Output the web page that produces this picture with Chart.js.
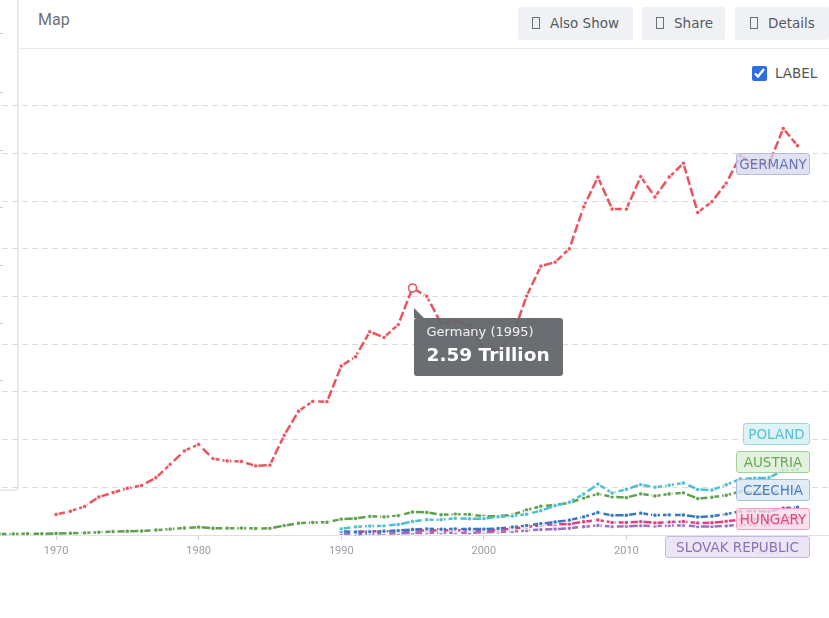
<!DOCTYPE html>
<html>
<head>
<meta charset="utf-8">
<script src="https://cdn.jsdelivr.net/npm/chart.js@4.4.1/dist/chart.umd.min.js"></script>
<style>
  body { margin: 0; width: 829px; height: 618px; overflow: hidden; background: #fff; font-family: Roboto, "Open Sans", sans-serif; position: relative; }
  .abs { position: absolute; }
  .panel { left: 17px; top: 0; width: 812px; height: 490px; border-left: 2px solid #e7eaef; box-sizing: border-box; }
  .panel-foot { left: 0; top: 489px; width: 18px; height: 2px; background: #e7eaef; }
  .mark { left: 0; width: 3px; height: 1px; background: #c9ccd0; }
  .head-line { left: 19px; top: 48px; width: 810px; height: 1px; background: #e6e8eb; }
  .map-title { left: 38px; top: 10px; font-size: 16px; color: #6d7278; }
  .btn { top: 7px; height: 33px; background: #eff1f4; border-radius: 2px; font-family: "DejaVu Sans", sans-serif; font-size: 13.5px; color: #555a61; line-height: 33px; box-sizing: border-box; }
  .btn i { display: inline-block; width: 6px; height: 10px; border: 1px solid #6b7077; vertical-align: -1px; margin-right: 10px; }
  .lbl-check { left: 752px; top: 65px; font-family: "DejaVu Sans", sans-serif; font-size: 13.5px; color: #555; display: flex; align-items: center; }
  .lbl-check input { margin: 0 8px 0 0; width: 15px; height: 15px; accent-color: #2d6fe3; }
  canvas { position: absolute; left: -163px; top: 62px; }
  .tag { height: 22px; line-height: 21px; font-family: "DejaVu Sans", sans-serif; font-size: 13.5px; text-align: center; border-radius: 3px; border: 1px solid; box-sizing: border-box; }
  #tip { display: none; background: rgba(95, 99, 104, 0.93); color: #fff; border-radius: 3px; width: 149px; height: 58px; box-sizing: border-box; padding: 5px 0 0 13px; font-family: "DejaVu Sans", sans-serif; }
  #tip .tail { position: absolute; left: 0; top: -10px; width: 0; height: 0; border-bottom: 10px solid rgba(95, 99, 104, 0.93); border-right: 10px solid transparent; }
  #tip .t-title { font-size: 13px; line-height: 18px; color: #f1f1f1; }
  #tip .t-value { font-size: 18.5px; font-weight: bold; line-height: 26px; margin-top: 1px; }
</style>
</head>
<body>
<div class="abs panel"></div>
<div class="abs panel-foot"></div>
<div class="abs mark" style="top:33px"></div>
<div class="abs mark" style="top:92px"></div>
<div class="abs mark" style="top:150px"></div>
<div class="abs mark" style="top:207px"></div>
<div class="abs mark" style="top:265px"></div>
<div class="abs mark" style="top:323px"></div>
<div class="abs mark" style="top:380px"></div>
<div class="abs head-line"></div>
<div class="abs map-title">Map</div>
<div class="abs btn" style="left:518px;width:115px;padding-left:14px"><i></i>Also Show</div>
<div class="abs btn" style="left:642px;width:83px;padding-left:14px"><i></i>Share</div>
<div class="abs btn" style="left:735px;width:94px;padding-left:15px"><i></i>Details</div>
<label class="abs lbl-check"><input type="checkbox" checked>LABEL</label>

<canvas id="chart" width="1037" height="513"></canvas>

<div class="abs tag" style="left:736px;top:153px;width:74px;color:#6c73b3;background:rgba(214,216,238,0.75);border-color:#b6bbdf">GERMANY</div>
<div class="abs tag" style="left:743px;top:423px;width:67px;color:#55c1d0;background:rgba(212,240,244,0.8);border-color:#99dbe4">POLAND</div>
<div class="abs tag" style="left:736px;top:451px;width:74px;color:#67a655;background:rgba(220,239,214,0.8);border-color:#a6d29a">AUSTRIA</div>
<div class="abs tag" style="left:736px;top:479px;width:74px;color:#4a80c0;background:rgba(217,231,245,0.8);border-color:#a3c2e5">CZECHIA</div>
<div class="abs tag" style="left:736px;top:508px;width:74px;color:#df4686;background:rgba(250,218,230,0.8);border-color:#f0a0bf">HUNGARY</div>
<div class="abs tag" style="left:665px;top:536px;width:145px;color:#8a72b7;background:rgba(233,225,243,0.85);border-color:#c9b9e2">SLOVAK REPUBLIC</div>

<div class="abs" id="tip"><div class="tail"></div><div class="t-title"></div><div class="t-value"></div></div>

<script>
// GDP, current US$, in trillions
const germanyStart = 1970;
const germanyGdp = [0.216, 0.249, 0.300, 0.398, 0.445, 0.490, 0.519, 0.600, 0.741, 0.882,
  0.950, 0.801, 0.777, 0.770, 0.725, 0.733, 1.046, 1.298, 1.401, 1.398,
  1.772, 1.869, 2.132, 2.072, 2.206, 2.59, 2.503, 2.218, 2.243, 2.200,
  1.948, 1.945, 2.078, 2.505, 2.819, 2.861, 3.002, 3.440, 3.752, 3.418,
  3.417, 3.758, 3.544, 3.753, 3.898, 3.382, 3.495, 3.690, 3.975, 3.889,
  3.890, 4.263, 4.082];

const austriaStart = 1960;
const austriaGdp = [0.0066, 0.0073, 0.0078, 0.0084, 0.0092, 0.0099, 0.0109, 0.0117, 0.0126, 0.0135,
  0.0154, 0.0178, 0.0221, 0.0295, 0.0355, 0.0400, 0.0427, 0.0518, 0.0617, 0.0731,
  0.0822, 0.0714, 0.0716, 0.0721, 0.0677, 0.0696, 0.0988, 0.1226, 0.1317, 0.1333,
  0.1665, 0.1739, 0.1955, 0.1902, 0.2035, 0.2416, 0.2368, 0.2127, 0.2187, 0.2158,
  0.1967, 0.1969, 0.2127, 0.2615, 0.3009, 0.3151, 0.3360, 0.3887, 0.4306, 0.4009,
  0.3920, 0.4317, 0.4095, 0.4302, 0.4422, 0.3819, 0.3954, 0.4171, 0.4552, 0.4445,
  0.4353, 0.4800, 0.4711];

const polandStart = 1990;
const polandGdp = [0.0647, 0.0854, 0.0942, 0.0961, 0.1103, 0.1425, 0.1599, 0.1592, 0.1746, 0.1696,
  0.1718, 0.1906, 0.1985, 0.2175, 0.2555, 0.3063, 0.3444, 0.4292, 0.5339, 0.4398,
  0.4791, 0.5283, 0.5003, 0.5212, 0.5451, 0.4773, 0.4711, 0.5265, 0.5878, 0.5966,
  0.5995, 0.6812, 0.6882];

const czechiaStart = 1990;
const czechiaGdp = [0.0399, 0.0307, 0.0347, 0.0403, 0.0463, 0.0580, 0.0646, 0.0603, 0.0647, 0.0627,
  0.0617, 0.0678, 0.0827, 0.0999, 0.1194, 0.1364, 0.1559, 0.1900, 0.2355, 0.2058,
  0.2077, 0.2293, 0.2077, 0.2112, 0.2094, 0.1883, 0.1961, 0.2189, 0.2491, 0.2527,
  0.2456, 0.2818, 0.2904];

const hungaryStart = 1991;
const hungaryGdp = [0.0337, 0.0378, 0.0393, 0.0425, 0.0466, 0.0472, 0.0480, 0.0494, 0.0500,
  0.0473, 0.0532, 0.0673, 0.0840, 0.1023, 0.1129, 0.1149, 0.1388, 0.1574, 0.1306,
  0.1313, 0.1404, 0.1275, 0.1352, 0.1408, 0.1251, 0.1284, 0.1430, 0.1606, 0.1640,
  0.1578, 0.1818, 0.1774];

const slovakStart = 1990;
const slovakGdp = [0.0155, 0.0109, 0.0125, 0.0162, 0.0184, 0.0210, 0.0225, 0.0236, 0.0244, 0.0220,
  0.0295, 0.0310, 0.0355, 0.0473, 0.0572, 0.0627, 0.0709, 0.0866, 0.1006, 0.0882,
  0.0906, 0.0987, 0.0937, 0.0984, 0.1013, 0.0884, 0.0899, 0.0952, 0.1063, 0.1056,
  0.1063, 0.1184, 0.1154];

const xTickStep = 10;
const yTickStep = 0.5;
const activeYear = 1995;

function toPoints(start, values) {
  return values.map((v, i) => ({ x: start + i, y: v }));
}

function series(label, start, values, color) {
  return {
    label: label,
    data: toPoints(start, values),
    borderColor: color,
    backgroundColor: color,
    borderWidth: 2.5,
    borderDash: [9, 3],
    pointRadius: 2.3,
    pointBorderWidth: 1.2,
    pointBorderColor: 'rgba(255,255,255,0.85)',
    pointBackgroundColor: color,
    pointHoverRadius: 4,
    pointHoverBorderWidth: 1.6,
    pointHoverBorderColor: color,
    pointHoverBackgroundColor: '#fff',
    tension: 0,
    clip: false
  };
}

// html tooltip, positioned from the chart's own caret
function externalTooltip(context) {
  const tip = context.tooltip;
  const el = document.getElementById('tip');
  if (tip.opacity === 0 || !tip.dataPoints || !tip.dataPoints.length) {
    el.style.display = 'none';
    return;
  }
  const dp = tip.dataPoints[0];
  el.querySelector('.t-title').textContent = `${dp.dataset.label} (${dp.parsed.x})`;
  el.querySelector('.t-value').textContent = `${dp.parsed.y.toFixed(2)} Trillion`;
  const canvas = context.chart.canvas;
  el.style.left = (canvas.offsetLeft + tip.caretX + 1) + 'px';
  el.style.top = (canvas.offsetTop + tip.caretY + 30) + 'px';
  el.style.display = 'block';
}

const chart = new Chart(document.getElementById('chart'), {
  type: 'line',
  data: {
    datasets: [
      series('Germany', germanyStart, germanyGdp, '#e9555e'),
      series('Poland', polandStart, polandGdp, '#4fbfce'),
      series('Austria', austriaStart, austriaGdp, '#5f9f4d'),
      series('Czechia', czechiaStart, czechiaGdp, '#3878bf'),
      series('Hungary', hungaryStart, hungaryGdp, '#e03f84'),
      series('Slovak Republic', slovakStart, slovakGdp, '#9a70c4')
    ]
  },
  options: {
    responsive: false,
    animation: false,
    events: [],
    layout: { padding: 0 },
    plugins: {
      legend: { display: false },
      title: { display: false },
      tooltip: { enabled: false, external: externalTooltip }
    },
    scales: {
      x: {
        type: 'linear',
        min: 1955,
        max: 2027,
        afterFit: (axis) => { axis.height = 40; },
        border: { display: true, color: '#dcdfe3', width: 1 },
        grid: { drawOnChartArea: false, drawTicks: true, tickLength: 5, color: '#cfd2d6' },
        ticks: {
          stepSize: xTickStep,
          includeBounds: false,
          padding: 5,
          color: '#9b9fa4',
          font: { family: 'Roboto', size: 11 },
          maxRotation: 0,
          callback: (v) => String(v)
        }
      },
      y: {
        min: 0,
        max: 4.905,
        afterFit: (axis) => { axis.width = 0; },
        grid: {
          drawTicks: false,
          color: (ctx) => (ctx.tick && ctx.tick.value === 0 ? 'rgba(0,0,0,0)' : '#dcdcdc'),
          lineWidth: 1
        },
        border: { display: false, dash: [6, 4] },
        ticks: { display: false, stepSize: yTickStep, includeBounds: false }
      }
    }
  }
});

// show the 1995 Germany point as hovered, with its tooltip
const activeIndex = activeYear - germanyStart;
chart.setActiveElements([{ datasetIndex: 0, index: activeIndex }]);
chart.tooltip.setActiveElements([{ datasetIndex: 0, index: activeIndex }], { x: 0, y: 0 });
chart.update();
</script>
</body>
</html>
